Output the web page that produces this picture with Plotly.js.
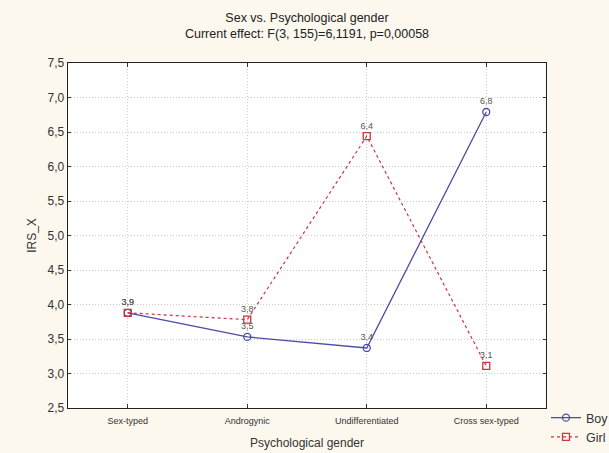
<!DOCTYPE html>
<html>
<head>
<meta charset="utf-8">
<script src="https://cdn.plot.ly/plotly-3.0.1.min.js"></script>
<style>html,body{margin:0;padding:0;background:#fcf8ee;}</style>
</head>
<body>
<div id="chart" style="width:609px;height:453px;"></div>
<script>
var categories = ["Sex-typed", "Androgynic", "Undifferentiated", "Cross sex-typed"];
var boyValues = [3.88, 3.53, 3.37, 6.79];
var girlValues = [3.88, 3.78, 6.44, 3.11];
var yTicks = [2.5, 3.0, 3.5, 4.0, 4.5, 5.0, 5.5, 6.0, 6.5, 7.0, 7.5];

var boy = {
  x: categories, y: boyValues, name: "Boy", type: "scatter", mode: "lines+markers+text",
  line: {color: "#4b4ba8", width: 1.3},
  marker: {symbol: "circle-open", size: 7, color: "#4b4ba8", line: {width: 1.3}},
  texttemplate: "%{y:.1f}", textposition: "top center",
  textfont: {family: "Liberation Sans, Arial", size: 9, color: "#555555"}
};
var girl = {
  x: categories, y: girlValues, name: "Girl", type: "scatter", mode: "lines+markers+text",
  line: {color: "#c8373c", width: 1.2, dash: "3px,3px"},
  marker: {symbol: "square-open", size: 7, color: "#c8373c", line: {width: 1.3}},
  texttemplate: "%{y:.1f}", textposition: "top center",
  textfont: {family: "Liberation Sans, Arial", size: 9, color: "#555555"}
};

var layout = {
  width: 609, height: 453,
  paper_bgcolor: "#fcf8ee", plot_bgcolor: "#ffffff",
  separators: ",.",
  font: {family: "Liberation Sans, Arial", color: "#222222"},
  margin: {l: 68, r: 63, t: 63, b: 45},
  title: {text: "Sex vs. Psychological gender<br>Current effect: F(3, 155)=6,1191, p=0,00058",
    font: {size: 12.5, color: "#222222"}, x: 0.5, xref: "paper", y: 0.952, yref: "container", yanchor: "top"},
  xaxis: {
    type: "category", range: [-0.5, 3.5], automargin: false,
    showgrid: true, gridcolor: "#cdcdcd", griddash: "1px,2px", gridwidth: 1,
    showline: true, linecolor: "#222222", linewidth: 1.3, mirror: "ticks", ticks: "inside", ticklen: 4, tickcolor: "#333333",
    tickfont: {size: 9, color: "#333333"}, ticklabelstandoff: 4,
    title: {text: "Psychological gender", font: {size: 12, color: "#333333"}, standoff: 13}
  },
  yaxis: {
    range: [2.5, 7.5], tickvals: yTicks, tickformat: ".1f", automargin: false,
    showgrid: true, gridcolor: "#cdcdcd", griddash: "1px,2px", gridwidth: 1,
    showline: true, linecolor: "#222222", linewidth: 1.3, mirror: "ticks", ticks: "inside", ticklen: 3, tickcolor: "#333333",
    zeroline: false,
    tickfont: {size: 12, color: "#333333"},
    title: {text: "IRS_X", font: {size: 12, color: "#333333"}, standoff: 8}
  },
  showlegend: true,
  legend: {x: 546 / 609, xref: "container", xanchor: "left", y: 1 - 403 / 453, yref: "container", yanchor: "top",
    bgcolor: "rgba(0,0,0,0)", font: {size: 12.5, color: "#333333"}, tracegroupgap: 0, itemwidth: 30}
};

Plotly.newPlot("chart", [boy, girl], layout, {displayModeBar: false, staticPlot: true});
</script>
</body>
</html>
